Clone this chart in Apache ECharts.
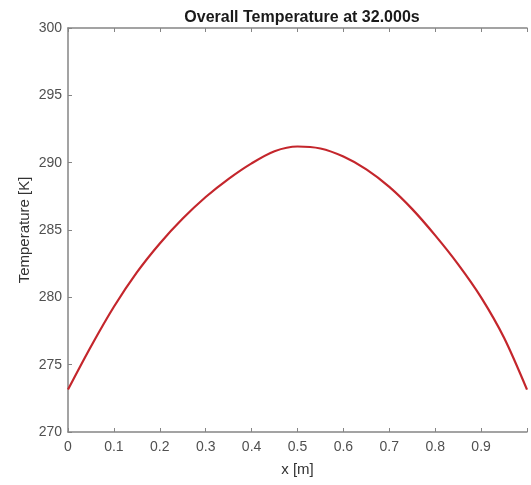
<!DOCTYPE html>
<html>
<head>
<meta charset="utf-8">
<script src="https://cdn.jsdelivr.net/npm/echarts@6/dist/echarts.min.js"></script>
<style>html,body{margin:0;padding:0;background:#fff;}#c{width:531px;height:485px;}</style>
</head>
<body>
<div id="c"></div>
<script>
const titleText = 'Overall Temperature at 32.000s';
const xName = 'x [m]';
const yName = 'Temperature [K]';
const xPos = [0, 0.05, 0.1, 0.15, 0.2, 0.25, 0.3, 0.35, 0.4, 0.45, 0.5, 0.55, 0.6, 0.65, 0.7, 0.75, 0.8, 0.85, 0.9, 0.95, 1.0];
const temps = [273.15, 276.35, 279.3, 281.85, 284.0, 285.85, 287.45, 288.8, 289.95, 290.85, 291.2, 291.05, 290.45, 289.5, 288.2, 286.55, 284.6, 282.45, 280.0, 277.0, 273.15];
const xTicks = [0, 0.1, 0.2, 0.3, 0.4, 0.5, 0.6, 0.7, 0.8, 0.9];
const yTicks = [270, 275, 280, 285, 290, 295, 300];

const chart = echarts.init(document.getElementById('c'), null, {renderer: 'canvas'});
const font = 'Liberation Sans, Arial, Helvetica, sans-serif';
const axisCol = '#858585';
const labCol = '#505050';
const data = xPos.map((x, i) => [x, temps[i]]);

chart.setOption({
  animation: false,
  backgroundColor: '#ffffff',
  title: {
    text: titleText,
    left: 297,
    textAlign: 'center',
    top: 5,
    textStyle: {fontFamily: font, fontSize: 16, fontWeight: 'bold', color: '#1a1a1a'}
  },
  grid: {left: 68, top: 28, width: 459, height: 404, containLabel: false},
  xAxis: [{
    type: 'value', min: xTicks[0], max: 1, interval: 0.1, position: 'bottom',
    name: xName, nameLocation: 'middle', nameGap: 30, nameMoveOverlap: false,
    nameTextStyle: {fontFamily: font, fontSize: 15, color: '#333'},
    axisLine: {show: true, lineStyle: {color: axisCol, width: 1.5}},
    axisTick: {show: true, inside: true, length: 4, lineStyle: {color: axisCol}},
    axisLabel: {fontFamily: font, fontSize: 14, color: labCol, margin: 8,
      formatter: v => (xTicks.some(t => Math.abs(t - v) < 1e-9) ? String(+v.toFixed(1)) : '')},
    splitLine: {show: false}
  }, {
    type: 'value', min: xTicks[0], max: 1, interval: 0.1, position: 'top',
    axisLine: {show: true, lineStyle: {color: axisCol, width: 1.5}},
    axisTick: {show: true, inside: true, length: 4, lineStyle: {color: axisCol}},
    axisLabel: {show: false}, splitLine: {show: false}
  }],
  yAxis: [{
    type: 'value', min: yTicks[0], max: yTicks[yTicks.length - 1], interval: 5,
    name: yName, nameLocation: 'middle', nameGap: 36, nameMoveOverlap: false,
    nameTextStyle: {fontFamily: font, fontSize: 15, color: '#333'},
    axisLine: {show: true, lineStyle: {color: axisCol, width: 1.5}},
    axisTick: {show: true, inside: true, length: 4, lineStyle: {color: axisCol}},
    axisLabel: {fontFamily: font, fontSize: 14, color: labCol, margin: 6},
    splitLine: {show: false}
  }],
  series: [{
    type: 'line', data: data, smooth: 0.3, showSymbol: false,
    lineStyle: {color: '#c4262c', width: 2.2}, itemStyle: {color: '#c4262c'}
  }]
});
</script>
</body>
</html>
